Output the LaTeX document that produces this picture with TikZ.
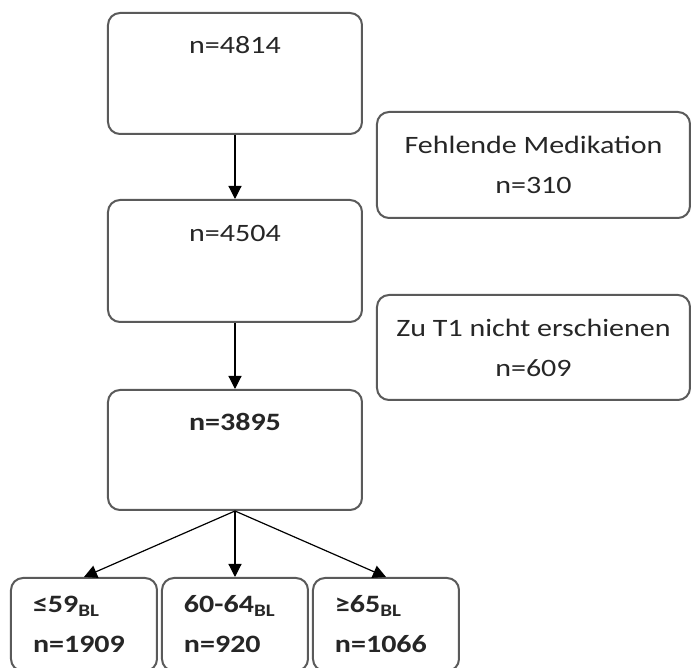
\documentclass[tikz,border=0pt]{standalone}
\usepackage{fontspec}
\setmainfont{Carlito}[FakeStretch=1.2]
\usepackage{xcolor}
\usetikzlibrary{positioning,arrows.meta}
\definecolor{boxgray}{HTML}{5A5A5A}
\definecolor{txtgray}{HTML}{262626}
\tikzset{
    box/.style={draw=boxgray, line width=1pt, rounded corners=6pt, minimum width=#1, inner sep=0pt},
    box/.default=127pt,
    txt/.style={text=txtgray, font=\fontsize{12.5}{20}\selectfont},
    arr/.style={-{Triangle[length=6.5pt,width=6.5pt]}, line width=0.6pt},
    agebox/.style={box=73pt, minimum height=46.5pt, inner xsep=11pt, text width=51pt, align=left, txt, font=\fontsize{12.5}{20}\selectfont\bfseries}
}

\begin{document}
\begin{tikzpicture}[x=0.5pt,y=-0.5pt]
    \useasboundingbox (0,0) rectangle (693,668);
    % main column
    \node[box, minimum height=60.5pt] (b1) at (235,73.5) {};
    \node[box, minimum height=61pt] (b2) at (235,261) {};
    \node[box, minimum height=60pt] (b3) at (235,450) {};
    \node[txt, anchor=base] (t1) at ([yshift=-21pt]b1.north) {n=4814};
    \node[txt, anchor=base] (t2) at ([yshift=-21.5pt]b2.north) {n=4504};
    \node[txt, anchor=base, font=\fontsize{12.5}{20}\selectfont\bfseries] (t3) at ([yshift=-21pt]b3.north) {n=3895};
    % excluded
    \node[box=156.5pt, minimum height=53pt, txt, align=center] (e1) at (533.5,165) {Fehlende Medikation\\n=310};
    \node[box=156.5pt, minimum height=52.5pt, txt, align=center] (e2) at (533.5,347.5) {Zu T1 nicht erschienen\\n=609};
    % age groups
    \node[agebox] (g1) at (84,624.5) {≤59\textsubscript{BL}\\n=1909};
    \node[agebox] (g2) at (235,624.5) {60-64\textsubscript{BL}\\n=920};
    \node[agebox] (g3) at (386,624.5) {≥65\textsubscript{BL}\\n=1066};
    \draw[arr] (b1) -- (b2);
    \draw[arr] (b2) -- (b3);
    \draw[arr] (b3.south) -- (g1.north);
    \draw[arr] (b3.south) -- (g2.north);
    \draw[arr] (b3.south) -- (g3.north);
\end{tikzpicture}
\end{document}
